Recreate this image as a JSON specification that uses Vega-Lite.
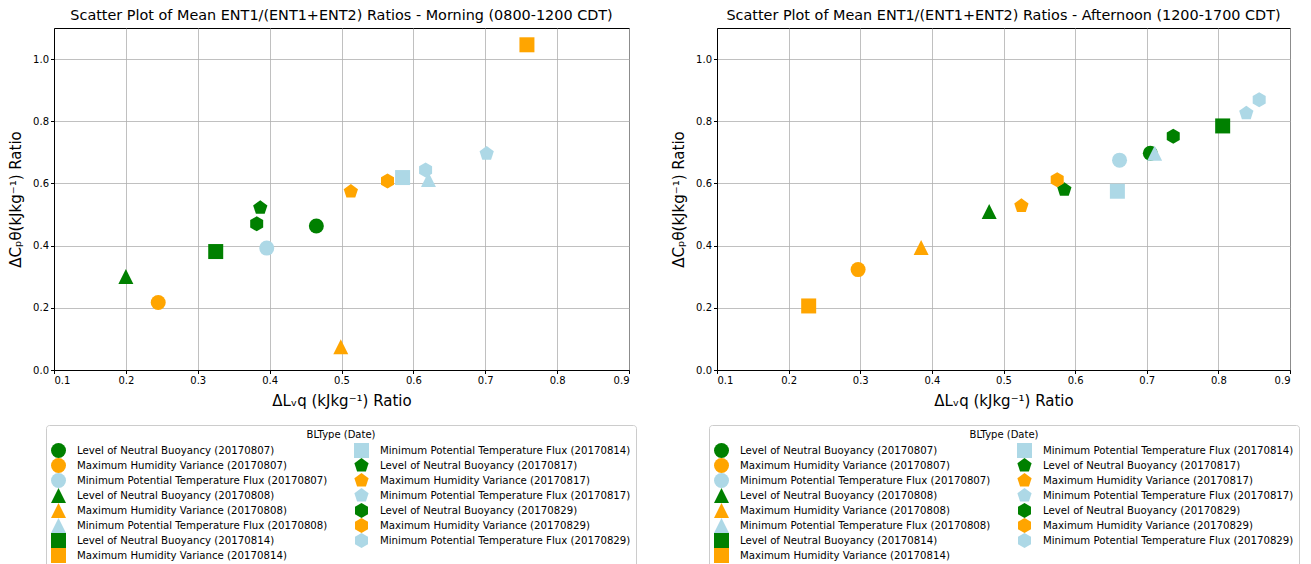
{
  "$schema": "https://vega.github.io/schema/vega-lite/v6.json",
  "padding": {"left": 8, "top": 7, "right": 5, "bottom": 0},
  "background": "white",
  "bounds": "flush",
  "spacing": 88,
  "config": {
    "font": "DejaVu Sans",
    "view": {"stroke": "#000000", "strokeWidth": 1},
    "axis": {"labelFontSize": 10, "labelColor": "#000000", "titleFontSize": 15, "titleFontWeight": "normal", "titleColor": "#000000", "tickColor": "#000000", "tickSize": 3.5, "domainColor": "#000000", "gridColor": "#b0b0b0", "gridWidth": 0.8, "labelPadding": 2, "zindex": 1},
    "axisX": {"titlePadding": 8},
    "axisY": {"titlePadding": 9},
    "legend": {"labelFontSize": 10.2, "labelColor": "#000000", "titleFontSize": 10, "titleFontWeight": "normal", "titleColor": "#000000", "symbolSize": 225, "rowPadding": 0, "columnPadding": 26, "labelOffset": 11, "padding": 5, "strokeColor": "#cccccc", "cornerRadius": 3, "fillColor": "#ffffff", "titleAnchor": "middle", "symbolStrokeWidth": 0, "titlePadding": 3, "labelLimit": 400, "symbolOpacity": 1},
    "title": {"fontSize": 14.4, "fontWeight": "normal", "color": "#000000", "offset": 5}
  },
  "datasets": {
    "morning": [
      {"series": "Level of Neutral Buoyancy (20170807)", "x": 0.465, "y": 0.463},
      {"series": "Maximum Humidity Variance (20170807)", "x": 0.245, "y": 0.217},
      {"series": "Minimum Potential Temperature Flux (20170807)", "x": 0.396, "y": 0.392},
      {"series": "Level of Neutral Buoyancy (20170808)", "x": 0.200, "y": 0.301},
      {"series": "Maximum Humidity Variance (20170808)", "x": 0.499, "y": 0.075},
      {"series": "Minimum Potential Temperature Flux (20170808)", "x": 0.621, "y": 0.613},
      {"series": "Level of Neutral Buoyancy (20170814)", "x": 0.325, "y": 0.381},
      {"series": "Maximum Humidity Variance (20170814)", "x": 0.758, "y": 1.046},
      {"series": "Minimum Potential Temperature Flux (20170814)", "x": 0.585, "y": 0.619},
      {"series": "Level of Neutral Buoyancy (20170817)", "x": 0.387, "y": 0.522},
      {"series": "Maximum Humidity Variance (20170817)", "x": 0.513, "y": 0.574},
      {"series": "Minimum Potential Temperature Flux (20170817)", "x": 0.702, "y": 0.696},
      {"series": "Level of Neutral Buoyancy (20170829)", "x": 0.382, "y": 0.470},
      {"series": "Maximum Humidity Variance (20170829)", "x": 0.564, "y": 0.608},
      {"series": "Minimum Potential Temperature Flux (20170829)", "x": 0.617, "y": 0.643}
    ],
    "afternoon": [
      {"series": "Level of Neutral Buoyancy (20170807)", "x": 0.705, "y": 0.697},
      {"series": "Maximum Humidity Variance (20170807)", "x": 0.297, "y": 0.323},
      {"series": "Minimum Potential Temperature Flux (20170807)", "x": 0.662, "y": 0.675},
      {"series": "Level of Neutral Buoyancy (20170808)", "x": 0.480, "y": 0.510},
      {"series": "Maximum Humidity Variance (20170808)", "x": 0.385, "y": 0.394},
      {"series": "Minimum Potential Temperature Flux (20170808)", "x": 0.711, "y": 0.697},
      {"series": "Level of Neutral Buoyancy (20170814)", "x": 0.806, "y": 0.785},
      {"series": "Maximum Humidity Variance (20170814)", "x": 0.228, "y": 0.206},
      {"series": "Minimum Potential Temperature Flux (20170814)", "x": 0.659, "y": 0.575},
      {"series": "Level of Neutral Buoyancy (20170817)", "x": 0.585, "y": 0.580},
      {"series": "Maximum Humidity Variance (20170817)", "x": 0.525, "y": 0.528},
      {"series": "Minimum Potential Temperature Flux (20170817)", "x": 0.839, "y": 0.826},
      {"series": "Level of Neutral Buoyancy (20170829)", "x": 0.737, "y": 0.752},
      {"series": "Maximum Humidity Variance (20170829)", "x": 0.575, "y": 0.612},
      {"series": "Minimum Potential Temperature Flux (20170829)", "x": 0.857, "y": 0.869}
    ]
  },
  "resolve": {"scale": {"color": "independent", "shape": "independent"}, "legend": {"color": "independent", "shape": "independent"}},
  "hconcat": [
    {
      "width": 575, "height": 342,
      "title": "Scatter Plot of Mean ENT1/(ENT1+ENT2) Ratios - Morning (0800-1200 CDT)",
      "data": {"name": "morning"},
      "mark": {"type": "point", "filled": true, "opacity": 1, "size": 225},
      "encoding": {
        "x": {"field": "x", "type": "quantitative", "scale": {"domain": [0.1, 0.9], "nice": false, "zero": false}, "axis": {"title": "ΔLᵥq (kJkg⁻¹) Ratio", "values": [0.1, 0.2, 0.3, 0.4, 0.5, 0.6, 0.7, 0.8, 0.9], "format": ".1f"}},
        "y": {"field": "y", "type": "quantitative", "scale": {"domain": [0, 1.1], "nice": false, "zero": false}, "axis": {"title": "ΔCₚθ(kJkg⁻¹) Ratio", "values": [0, 0.2, 0.4, 0.6, 0.8, 1.0], "format": ".1f"}},
        "color": {"field": "series", "type": "nominal",
          "scale": {"domain": ["Level of Neutral Buoyancy (20170807)", "Maximum Humidity Variance (20170807)", "Minimum Potential Temperature Flux (20170807)", "Level of Neutral Buoyancy (20170808)", "Maximum Humidity Variance (20170808)", "Minimum Potential Temperature Flux (20170808)", "Level of Neutral Buoyancy (20170814)", "Maximum Humidity Variance (20170814)", "Minimum Potential Temperature Flux (20170814)", "Level of Neutral Buoyancy (20170817)", "Maximum Humidity Variance (20170817)", "Minimum Potential Temperature Flux (20170817)", "Level of Neutral Buoyancy (20170829)", "Maximum Humidity Variance (20170829)", "Minimum Potential Temperature Flux (20170829)"],
                    "range": ["#008000", "#ffa500", "#add8e6", "#008000", "#ffa500", "#add8e6", "#008000", "#ffa500", "#add8e6", "#008000", "#ffa500", "#add8e6", "#008000", "#ffa500", "#add8e6"]},
          "legend": {"title": "BLType (Date)", "orient": "none", "legendX": -8, "legendY": 397, "columns": 2}},
        "shape": {"field": "series", "type": "nominal",
          "scale": {"domain": ["Level of Neutral Buoyancy (20170807)", "Maximum Humidity Variance (20170807)", "Minimum Potential Temperature Flux (20170807)", "Level of Neutral Buoyancy (20170808)", "Maximum Humidity Variance (20170808)", "Minimum Potential Temperature Flux (20170808)", "Level of Neutral Buoyancy (20170814)", "Maximum Humidity Variance (20170814)", "Minimum Potential Temperature Flux (20170814)", "Level of Neutral Buoyancy (20170817)", "Maximum Humidity Variance (20170817)", "Minimum Potential Temperature Flux (20170817)", "Level of Neutral Buoyancy (20170829)", "Maximum Humidity Variance (20170829)", "Minimum Potential Temperature Flux (20170829)"],
                    "range": ["circle", "circle", "circle", "M0,-1L1,1L-1,1Z", "M0,-1L1,1L-1,1Z", "M0,-1L1,1L-1,1Z", "square", "square", "square", "M0,-1L0.951,-0.309L0.588,0.809L-0.588,0.809L-0.951,-0.309Z", "M0,-1L0.951,-0.309L0.588,0.809L-0.588,0.809L-0.951,-0.309Z", "M0,-1L0.951,-0.309L0.588,0.809L-0.588,0.809L-0.951,-0.309Z", "M0,-1L0.866,-0.5L0.866,0.5L0,1L-0.866,0.5L-0.866,-0.5Z", "M0,-1L0.866,-0.5L0.866,0.5L0,1L-0.866,0.5L-0.866,-0.5Z", "M0,-1L0.866,-0.5L0.866,0.5L0,1L-0.866,0.5L-0.866,-0.5Z"]},
          "legend": {"title": "BLType (Date)", "orient": "none", "legendX": -8, "legendY": 397, "columns": 2}}
      }
    },
    {
      "width": 573, "height": 342,
      "title": "Scatter Plot of Mean ENT1/(ENT1+ENT2) Ratios - Afternoon (1200-1700 CDT)",
      "data": {"name": "afternoon"},
      "mark": {"type": "point", "filled": true, "opacity": 1, "size": 225},
      "encoding": {
        "x": {"field": "x", "type": "quantitative", "scale": {"domain": [0.1, 0.9], "nice": false, "zero": false}, "axis": {"title": "ΔLᵥq (kJkg⁻¹) Ratio", "values": [0.1, 0.2, 0.3, 0.4, 0.5, 0.6, 0.7, 0.8, 0.9], "format": ".1f"}},
        "y": {"field": "y", "type": "quantitative", "scale": {"domain": [0, 1.1], "nice": false, "zero": false}, "axis": {"title": "ΔCₚθ(kJkg⁻¹) Ratio", "values": [0, 0.2, 0.4, 0.6, 0.8, 1.0], "format": ".1f"}},
        "color": {"field": "series", "type": "nominal",
          "scale": {"domain": ["Level of Neutral Buoyancy (20170807)", "Maximum Humidity Variance (20170807)", "Minimum Potential Temperature Flux (20170807)", "Level of Neutral Buoyancy (20170808)", "Maximum Humidity Variance (20170808)", "Minimum Potential Temperature Flux (20170808)", "Level of Neutral Buoyancy (20170814)", "Maximum Humidity Variance (20170814)", "Minimum Potential Temperature Flux (20170814)", "Level of Neutral Buoyancy (20170817)", "Maximum Humidity Variance (20170817)", "Minimum Potential Temperature Flux (20170817)", "Level of Neutral Buoyancy (20170829)", "Maximum Humidity Variance (20170829)", "Minimum Potential Temperature Flux (20170829)"],
                    "range": ["#008000", "#ffa500", "#add8e6", "#008000", "#ffa500", "#add8e6", "#008000", "#ffa500", "#add8e6", "#008000", "#ffa500", "#add8e6", "#008000", "#ffa500", "#add8e6"]},
          "legend": {"title": "BLType (Date)", "orient": "none", "legendX": -8, "legendY": 397, "columns": 2}},
        "shape": {"field": "series", "type": "nominal",
          "scale": {"domain": ["Level of Neutral Buoyancy (20170807)", "Maximum Humidity Variance (20170807)", "Minimum Potential Temperature Flux (20170807)", "Level of Neutral Buoyancy (20170808)", "Maximum Humidity Variance (20170808)", "Minimum Potential Temperature Flux (20170808)", "Level of Neutral Buoyancy (20170814)", "Maximum Humidity Variance (20170814)", "Minimum Potential Temperature Flux (20170814)", "Level of Neutral Buoyancy (20170817)", "Maximum Humidity Variance (20170817)", "Minimum Potential Temperature Flux (20170817)", "Level of Neutral Buoyancy (20170829)", "Maximum Humidity Variance (20170829)", "Minimum Potential Temperature Flux (20170829)"],
                    "range": ["circle", "circle", "circle", "M0,-1L1,1L-1,1Z", "M0,-1L1,1L-1,1Z", "M0,-1L1,1L-1,1Z", "square", "square", "square", "M0,-1L0.951,-0.309L0.588,0.809L-0.588,0.809L-0.951,-0.309Z", "M0,-1L0.951,-0.309L0.588,0.809L-0.588,0.809L-0.951,-0.309Z", "M0,-1L0.951,-0.309L0.588,0.809L-0.588,0.809L-0.951,-0.309Z", "M0,-1L0.866,-0.5L0.866,0.5L0,1L-0.866,0.5L-0.866,-0.5Z", "M0,-1L0.866,-0.5L0.866,0.5L0,1L-0.866,0.5L-0.866,-0.5Z", "M0,-1L0.866,-0.5L0.866,0.5L0,1L-0.866,0.5L-0.866,-0.5Z"]},
          "legend": {"title": "BLType (Date)", "orient": "none", "legendX": -8, "legendY": 397, "columns": 2}}
      }
    }
  ]
}
